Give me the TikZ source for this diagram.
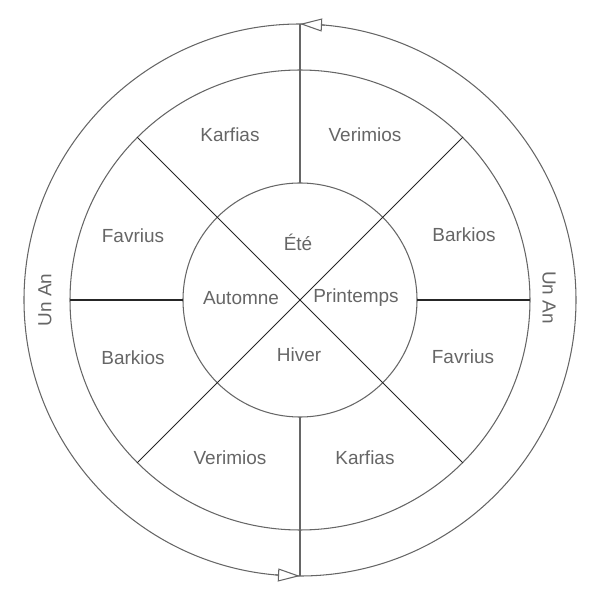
\documentclass[tikz,border=0pt]{standalone}
\usepackage{fontspec}
\setmainfont{Liberation Sans}
\usepackage{xcolor}
\usepackage{tikz}
\usetikzlibrary{arrows.meta,calc,positioning}

\tikzset{
  ring/.style={circle, draw=black!60, line width=0.6pt, outer sep=0pt, inner sep=0pt},
  spoke/.style={draw=black!85, line width=0.6pt},
  year/.style={draw=black!60, line width=0.6pt, -{Triangle[open, length=0.44cm, width=0.26cm, fill=white]}},
  lbl/.style={text=black!60, font=\fontsize{10.8}{12}\selectfont}
}

\begin{document}
\begin{tikzpicture}
\useasboundingbox (0,0) rectangle (12,12);
\coordinate (c) at (6,6);

\node [ring, minimum size=11.04cm] (outer) at (c) {};
\node [ring, minimum size=9.2cm] (mid) at (c) {};
\node [ring, minimum size=4.68cm] (inner) at (c) {};

\draw [spoke] (mid.135) -- (mid.-45);
\draw [spoke] (mid.45) -- (mid.-135);
\draw [spoke] (mid.west) -- (inner.west);
\draw [spoke] (inner.east) -- (mid.east);
\draw [spoke, draw=black!60] (outer.north) -- (inner.north);
\draw [spoke, draw=black!60] (inner.south) -- (outer.south);

\coordinate (tailN) at ($(outer.north)+(0.5,-0.023)$);
\coordinate (tailS) at ($(outer.south)+(-0.5,0.023)$);
\draw [year] (tailN) -- (outer.north);
\draw [year] (tailS) -- (outer.south);

\node [lbl] (karfiasA) at (4.6,9.3) {Karfias};
\node [lbl] (verimiosA) at (7.3,9.3) {Verimios};
\node [lbl] (barkiosA) at (9.28,7.3) {Barkios};
\node [lbl] (favriusA) at (9.26,4.86) {Favrius};
\node [lbl] (karfiasB) at (7.3,2.84) {Karfias};
\node [lbl] (verimiosB) at (4.6,2.84) {Verimios};
\node [lbl] (barkiosB) at (2.66,4.84) {Barkios};
\node [lbl] (favriusB) at (2.66,7.28) {Favrius};

\node [lbl] (ete) at (5.96,7.16) {Été};
\node [lbl] (automne) at (4.82,6.04) {Automne};
\node [lbl] (printemps) at (7.12,6.04) {Printemps};
\node [lbl] (hiver) at (5.98,4.9) {Hiver};

\node [lbl, rotate=90] (anG) at (0.9,6) {Un An};
\node [lbl, rotate=-90] (anD) at (10.98,6.05) {Un An};
\end{tikzpicture}
\end{document}
